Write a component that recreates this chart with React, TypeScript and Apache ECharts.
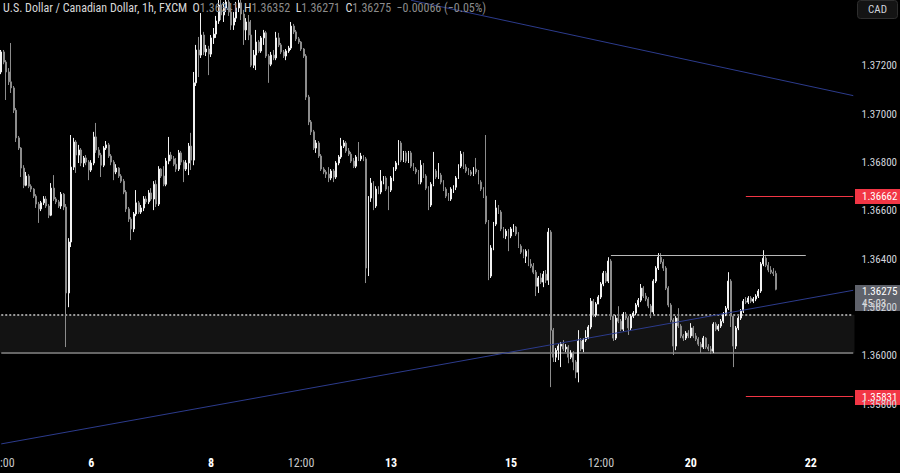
import React, { useEffect, useRef } from 'react';
import * as echarts from 'echarts';

const open = [1.37175,1.37258,1.37216,1.37175,1.37134,1.37109,1.37017,1.36902,1.36860,1.36777,1.36706,1.36744,1.36702,1.36690,1.36661,1.36628,1.36608,1.36633,1.36649,1.36620,1.36582,1.36694,1.36649,1.36637,1.36620,1.36669,1.36616,1.36260,1.36471,1.36781,1.36885,1.36831,1.36852,1.36798,1.36819,1.36802,1.36769,1.36798,1.36906,1.36852,1.36831,1.36789,1.36860,1.36873,1.36827,1.36802,1.36761,1.36777,1.36744,1.36723,1.36678,1.36608,1.36566,1.36525,1.36587,1.36633,1.36595,1.36612,1.36649,1.36637,1.36674,1.36649,1.36710,1.36628,1.36773,1.36744,1.36710,1.36806,1.36831,1.36815,1.36793,1.36773,1.36840,1.36802,1.36773,1.36798,1.36868,1.36810,1.37130,1.37266,1.37245,1.37328,1.37258,1.37270,1.37249,1.37316,1.37332,1.37386,1.37452,1.37411,1.37440,1.37465,1.37423,1.37369,1.37398,1.37440,1.37461,1.37415,1.37349,1.37382,1.37328,1.37203,1.37245,1.37299,1.37262,1.37316,1.37337,1.37241,1.37207,1.37245,1.37233,1.37316,1.37287,1.37258,1.37241,1.37262,1.37274,1.37365,1.37341,1.37312,1.37299,1.37270,1.37241,1.37071,1.36968,1.36927,1.36860,1.36881,1.36827,1.36773,1.36761,1.36752,1.36736,1.36765,1.36740,1.36798,1.36823,1.36868,1.36881,1.36848,1.36835,1.36806,1.36785,1.36823,1.36815,1.36827,1.36815,1.36363,1.36653,1.36715,1.36620,1.36690,1.36678,1.36723,1.36736,1.36690,1.36686,1.36736,1.36773,1.36798,1.36881,1.36810,1.36840,1.36806,1.36840,1.36785,1.36773,1.36761,1.36719,1.36789,1.36744,1.36694,1.36624,1.36710,1.36765,1.36740,1.36748,1.36719,1.36690,1.36661,1.36649,1.36690,1.36698,1.36736,1.36785,1.36835,1.36781,1.36765,1.36761,1.36752,1.36773,1.36761,1.36719,1.36690,1.36661,1.36554,1.36330,1.36446,1.36545,1.36612,1.36595,1.36525,1.36496,1.36516,1.36496,1.36525,1.36533,1.36504,1.36454,1.36429,1.36412,1.36433,1.36380,1.36371,1.36346,1.36288,1.36322,1.36305,1.36338,1.36313,1.36512,1.36106,1.35994,1.36023,1.36040,1.36048,1.36028,1.36036,1.35994,1.36011,1.35974,1.35932,1.36061,1.36028,1.36065,1.36077,1.36119,1.36226,1.36168,1.36214,1.36243,1.36297,1.36342,1.36309,1.36392,1.36164,1.36073,1.36156,1.36143,1.36110,1.36172,1.36156,1.36115,1.36164,1.36177,1.36210,1.36230,1.36280,1.36247,1.36235,1.36206,1.36181,1.36309,1.36363,1.36408,1.36388,1.36363,1.36280,1.36210,1.36148,1.36040,1.36156,1.36123,1.36082,1.36073,1.36094,1.36082,1.36115,1.36082,1.36069,1.36048,1.36036,1.36073,1.36036,1.36028,1.36019,1.36131,1.36110,1.36123,1.36143,1.36172,1.36197,1.36309,1.36164,1.36040,1.36115,1.36156,1.36185,1.36226,1.36222,1.36239,1.36226,1.36235,1.36247,1.36268,1.36380,1.36404,1.36375,1.36355,1.36346,1.36341];

const close = [1.37258,1.37216,1.37175,1.37134,1.37109,1.37017,1.36902,1.36860,1.36777,1.36706,1.36744,1.36702,1.36690,1.36661,1.36628,1.36608,1.36633,1.36649,1.36620,1.36582,1.36694,1.36649,1.36637,1.36620,1.36669,1.36616,1.36260,1.36471,1.36781,1.36885,1.36831,1.36852,1.36798,1.36819,1.36802,1.36769,1.36798,1.36906,1.36852,1.36831,1.36789,1.36860,1.36873,1.36827,1.36802,1.36761,1.36777,1.36744,1.36723,1.36678,1.36608,1.36566,1.36525,1.36587,1.36633,1.36595,1.36612,1.36649,1.36637,1.36674,1.36649,1.36710,1.36628,1.36773,1.36744,1.36710,1.36806,1.36831,1.36815,1.36793,1.36773,1.36840,1.36802,1.36773,1.36798,1.36868,1.36810,1.37130,1.37266,1.37245,1.37328,1.37258,1.37270,1.37249,1.37316,1.37332,1.37386,1.37452,1.37411,1.37440,1.37465,1.37423,1.37369,1.37398,1.37440,1.37461,1.37415,1.37349,1.37382,1.37328,1.37203,1.37245,1.37299,1.37262,1.37316,1.37337,1.37241,1.37207,1.37245,1.37233,1.37316,1.37287,1.37258,1.37241,1.37262,1.37274,1.37365,1.37341,1.37312,1.37299,1.37270,1.37241,1.37071,1.36968,1.36927,1.36860,1.36881,1.36827,1.36773,1.36761,1.36752,1.36736,1.36765,1.36740,1.36798,1.36823,1.36868,1.36881,1.36848,1.36835,1.36806,1.36785,1.36823,1.36815,1.36827,1.36815,1.36363,1.36653,1.36715,1.36620,1.36690,1.36678,1.36723,1.36736,1.36690,1.36686,1.36736,1.36773,1.36798,1.36881,1.36810,1.36840,1.36806,1.36840,1.36785,1.36773,1.36761,1.36719,1.36789,1.36744,1.36694,1.36624,1.36710,1.36765,1.36740,1.36748,1.36719,1.36690,1.36661,1.36649,1.36690,1.36698,1.36736,1.36785,1.36835,1.36781,1.36765,1.36761,1.36752,1.36773,1.36761,1.36719,1.36690,1.36661,1.36554,1.36330,1.36446,1.36545,1.36612,1.36595,1.36525,1.36496,1.36516,1.36496,1.36525,1.36533,1.36504,1.36454,1.36429,1.36412,1.36433,1.36380,1.36371,1.36346,1.36288,1.36322,1.36305,1.36338,1.36313,1.36512,1.36106,1.35994,1.36023,1.36040,1.36048,1.36028,1.36036,1.35994,1.36011,1.35974,1.35932,1.36061,1.36028,1.36065,1.36077,1.36119,1.36226,1.36168,1.36214,1.36243,1.36297,1.36342,1.36309,1.36392,1.36164,1.36073,1.36156,1.36143,1.36110,1.36172,1.36156,1.36115,1.36164,1.36177,1.36210,1.36230,1.36280,1.36247,1.36235,1.36206,1.36181,1.36309,1.36363,1.36408,1.36388,1.36363,1.36280,1.36210,1.36148,1.36040,1.36156,1.36123,1.36082,1.36073,1.36094,1.36082,1.36115,1.36082,1.36069,1.36048,1.36036,1.36073,1.36036,1.36028,1.36019,1.36131,1.36110,1.36123,1.36143,1.36172,1.36197,1.36309,1.36164,1.36040,1.36115,1.36156,1.36185,1.36226,1.36222,1.36239,1.36226,1.36235,1.36247,1.36268,1.36380,1.36404,1.36375,1.36355,1.36346,1.36341,1.36275];

const high = [1.37266,1.37266,1.37224,1.37191,1.37295,1.37117,1.37026,1.36910,1.36864,1.36789,1.36761,1.36752,1.36710,1.36694,1.36669,1.36637,1.36641,1.36661,1.36661,1.36628,1.36715,1.36748,1.36657,1.36645,1.36678,1.36674,1.36628,1.36487,1.36914,1.36902,1.36893,1.36873,1.36860,1.36827,1.36831,1.36810,1.36810,1.36927,1.36964,1.36864,1.36840,1.36868,1.36889,1.36881,1.36835,1.36810,1.36793,1.36781,1.36752,1.36732,1.36686,1.36616,1.36574,1.36595,1.36686,1.36641,1.36624,1.36661,1.36661,1.36686,1.36694,1.36723,1.36727,1.36785,1.36777,1.36785,1.36819,1.36906,1.36844,1.36827,1.36819,1.36852,1.36848,1.36810,1.36810,1.36881,1.36923,1.37175,1.37287,1.37320,1.37419,1.37341,1.37287,1.37283,1.37328,1.37357,1.37407,1.37494,1.37485,1.37465,1.37506,1.37490,1.37440,1.37423,1.37465,1.37498,1.37481,1.37432,1.37398,1.37411,1.37390,1.37266,1.37349,1.37307,1.37324,1.37349,1.37345,1.37249,1.37258,1.37266,1.37341,1.37337,1.37295,1.37266,1.37270,1.37283,1.37382,1.37374,1.37349,1.37320,1.37303,1.37274,1.37249,1.37080,1.36976,1.36935,1.36893,1.36889,1.36835,1.36781,1.36769,1.36781,1.36773,1.36773,1.36806,1.36831,1.36902,1.36893,1.36889,1.36860,1.36844,1.36819,1.36831,1.36885,1.36840,1.36831,1.36823,1.36661,1.36736,1.36723,1.36702,1.36702,1.36769,1.36744,1.36744,1.36702,1.36744,1.36781,1.36806,1.36893,1.36889,1.36848,1.36848,1.36848,1.36848,1.36798,1.36781,1.36769,1.36810,1.36798,1.36752,1.36702,1.36719,1.36844,1.36773,1.36798,1.36757,1.36727,1.36698,1.36674,1.36698,1.36706,1.36744,1.36793,1.36848,1.36844,1.36793,1.36777,1.36769,1.36781,1.36819,1.36769,1.36727,1.36698,1.36914,1.36562,1.36458,1.36554,1.36645,1.36624,1.36603,1.36533,1.36525,1.36525,1.36533,1.36545,1.36537,1.36512,1.36462,1.36441,1.36441,1.36441,1.36400,1.36384,1.36355,1.36330,1.36342,1.36351,1.36355,1.36529,1.36520,1.36115,1.36032,1.36048,1.36057,1.36065,1.36048,1.36044,1.36023,1.36019,1.35982,1.36106,1.36073,1.36073,1.36106,1.36127,1.36239,1.36235,1.36222,1.36251,1.36305,1.36351,1.36351,1.36408,1.36400,1.36172,1.36168,1.36205,1.36152,1.36181,1.36181,1.36164,1.36172,1.36185,1.36218,1.36239,1.36297,1.36288,1.36260,1.36243,1.36214,1.36317,1.36371,1.36425,1.36425,1.36400,1.36371,1.36288,1.36218,1.36156,1.36164,1.36197,1.36131,1.36090,1.36102,1.36106,1.36135,1.36123,1.36094,1.36077,1.36057,1.36082,1.36077,1.36048,1.36040,1.36139,1.36139,1.36131,1.36152,1.36181,1.36206,1.36346,1.36317,1.36172,1.36123,1.36164,1.36193,1.36235,1.36243,1.36247,1.36247,1.36243,1.36255,1.36276,1.36388,1.36437,1.36412,1.36388,1.36371,1.36363,1.36352];

const low = [1.37166,1.37207,1.37059,1.37121,1.37088,1.37005,1.36885,1.36852,1.36740,1.36694,1.36702,1.36694,1.36678,1.36653,1.36612,1.36550,1.36599,1.36624,1.36612,1.36570,1.36578,1.36641,1.36628,1.36612,1.36608,1.36603,1.36036,1.36201,1.36450,1.36769,1.36757,1.36798,1.36785,1.36781,1.36789,1.36727,1.36761,1.36789,1.36840,1.36819,1.36740,1.36781,1.36852,1.36819,1.36789,1.36727,1.36752,1.36736,1.36715,1.36669,1.36595,1.36554,1.36479,1.36512,1.36578,1.36587,1.36587,1.36599,1.36628,1.36628,1.36641,1.36603,1.36616,1.36620,1.36736,1.36702,1.36702,1.36793,1.36806,1.36785,1.36761,1.36765,1.36789,1.36719,1.36765,1.36748,1.36769,1.36789,1.37117,1.37154,1.37233,1.37245,1.37241,1.37162,1.37237,1.37291,1.37316,1.37374,1.37390,1.37382,1.37423,1.37407,1.37349,1.37349,1.37382,1.37423,1.37390,1.37287,1.37307,1.37307,1.37195,1.37191,1.37183,1.37254,1.37254,1.37287,1.37233,1.37130,1.37199,1.37224,1.37224,1.37278,1.37249,1.37233,1.37224,1.37254,1.37266,1.37332,1.37303,1.37291,1.37262,1.37233,1.37059,1.36955,1.36914,1.36852,1.36840,1.36819,1.36765,1.36752,1.36736,1.36719,1.36727,1.36719,1.36732,1.36789,1.36815,1.36860,1.36840,1.36827,1.36798,1.36777,1.36777,1.36806,1.36806,1.36806,1.36301,1.36330,1.36637,1.36603,1.36612,1.36669,1.36669,1.36710,1.36682,1.36603,1.36678,1.36723,1.36765,1.36789,1.36802,1.36802,1.36798,1.36798,1.36777,1.36765,1.36752,1.36710,1.36710,1.36736,1.36686,1.36603,1.36616,1.36702,1.36732,1.36732,1.36710,1.36682,1.36653,1.36641,1.36641,1.36674,1.36686,1.36732,1.36777,1.36773,1.36757,1.36748,1.36744,1.36744,1.36752,1.36710,1.36682,1.36653,1.36545,1.36313,1.36322,1.36437,1.36537,1.36587,1.36516,1.36487,1.36483,1.36433,1.36487,1.36512,1.36496,1.36446,1.36421,1.36404,1.36384,1.36371,1.36363,1.36338,1.36247,1.36260,1.36297,1.36284,1.36301,1.36293,1.35870,1.35974,1.35974,1.35982,1.35953,1.36019,1.36015,1.35969,1.35986,1.35940,1.35907,1.35890,1.36019,1.36015,1.36057,1.36069,1.36110,1.36160,1.36160,1.36218,1.36235,1.36288,1.36301,1.36301,1.36148,1.36061,1.36065,1.36135,1.36102,1.36102,1.36148,1.36086,1.36106,1.36156,1.36168,1.36201,1.36222,1.36239,1.36226,1.36197,1.36156,1.36172,1.36301,1.36355,1.36380,1.36351,1.36272,1.36201,1.36139,1.36003,1.36023,1.36115,1.36073,1.36061,1.36065,1.36073,1.36073,1.36073,1.36061,1.36040,1.36011,1.36028,1.36028,1.36019,1.36007,1.36011,1.36102,1.36102,1.36115,1.36135,1.36164,1.36189,1.36119,1.35953,1.36028,1.36106,1.36148,1.36177,1.36214,1.36214,1.36218,1.36218,1.36226,1.36239,1.36260,1.36371,1.36367,1.36346,1.36338,1.36330,1.36271];

const slotCount = 342;
const timeLabelIndex = [36, 84, 120, 156, 204, 240, 276, 324];
const timeLabelText = ['6', '8', '12:00', '13', '15', '12:00', '20', '22'];
const priceTicks = [1.358, 1.36, 1.362, 1.364, 1.366, 1.368, 1.37, 1.372];
const yMin = 1.35618;
const yMax = 1.37473;
const zoneTop = 1.3617;
const zoneBottom = 1.36012;
const resistanceLevel = 1.36416;
const resistanceFrom = 244;
const resistanceTo = 322;
const upperLevel = 1.36662;
const lowerLevel = 1.35831;
const levelsFrom = 298;
const upperTrend = [[164, 1.37472], [341, 1.37077]];
const lowerTrend = [[0, 1.35635], [341, 1.36271]];
const countdown = '45:03';
const title = 'U.S. Dollar / Canadian Dollar, 1h, FXCM';
const currency = 'CAD';

const FONT = "'Liberation Sans Narrow', 'Roboto Condensed', 'DejaVu Sans Condensed', sans-serif";

function segSeries(a: number[], b: number[], color: string, width: number, type: any, z: number) {
  return {
    type: 'line',
    data: [],
    silent: true,
    markLine: {
      silent: true,
      z,
      symbol: ['none', 'none'],
      label: { show: false },
      lineStyle: { color, width, type },
      data: [[{ coord: [String(a[0]), a[1]] }, { coord: [String(b[0]), b[1]] }]],
    },
  };
}

export default function App() {
  const ref = useRef<HTMLDivElement>(null);
  useEffect(() => {
    if (!ref.current) return;
    const chart = echarts.init(ref.current, null, { renderer: 'svg' });
    const cats = Array.from({ length: slotCount }, (_, i) => String(i));
    const candles = close.map((c, i) => [open[i], c, low[i], high[i]]);
    const last = close.length - 1;
    const chg = close[last] - close[last - 1];
    const pct = (chg / close[last - 1]) * 100;
    const fmtSigned = (v: number, d: number) => (v < 0 ? '\u2212' : '+') + Math.abs(v).toFixed(d);

    chart.setOption({
      animation: false,
      backgroundColor: '#000000',
      grid: { left: 0, right: 45, top: 0, bottom: 25, containLabel: false },
      xAxis: {
        type: 'category',
        data: cats,
        boundaryGap: true,
        axisLine: { show: false },
        axisTick: { show: false },
        splitLine: { show: false },
        axisLabel: {
          margin: 9,
          interval: (index: number) => timeLabelIndex.indexOf(index) >= 0,
          formatter: (_v: string, index: number) => {
            const k = timeLabelIndex.indexOf(index);
            if (k < 0) return '';
            const t = timeLabelText[k];
            return t.indexOf(':') >= 0 ? '{t|' + t + '}' : '{d|' + t + '}';
          },
          rich: {
            t: { color: '#c8c8c8', fontSize: 12, fontFamily: FONT },
            d: { color: '#ffffff', fontSize: 12, fontWeight: 'bold', fontFamily: FONT },
          },
        },
      },
      yAxis: {
        type: 'value',
        position: 'right',
        min: yMin,
        max: yMax,
        axisLine: { show: false },
        axisTick: { show: false },
        splitLine: { show: false },
        axisLabel: {
          customValues: priceTicks,
          margin: 7,
          color: '#d1d4dc',
          fontSize: 11,
          fontFamily: FONT,
          formatter: (v: number) => v.toFixed(5),
        },
      },
      series: [
        {
          type: 'line',
          data: [],
          silent: true,
          markArea: {
            silent: true,
            z: 0,
            itemStyle: { color: '#131313' },
            data: [[{ yAxis: zoneTop }, { yAxis: zoneBottom }]],
          },
        },
        segSeries([0, zoneTop], [slotCount - 1, zoneTop], '#9a9a9a', 2, 'dotted', 1),
        segSeries([0, zoneBottom], [slotCount - 1, zoneBottom], '#666666', 2, 'solid', 1),
        {
          type: 'candlestick',
          z: 3,
          data: candles,
          barWidth: 1.4,
          itemStyle: {
            color: '#f2f2f2',
            color0: '#8c8c8c',
            borderColor: '#f2f2f2',
            borderColor0: '#8c8c8c',
            borderWidth: 1,
          },
        },
        segSeries(upperTrend[0], upperTrend[1], '#2c3b8c', 1, 'solid', 5),
        segSeries(lowerTrend[0], lowerTrend[1], '#2c3b8c', 1, 'solid', 5),
        segSeries([resistanceFrom, resistanceLevel], [resistanceTo, resistanceLevel], '#b8b8b8', 1, 'solid', 5),
        segSeries([levelsFrom, upperLevel], [slotCount - 1, upperLevel], '#f23645', 1, 'solid', 5),
        segSeries([levelsFrom, lowerLevel], [slotCount - 1, lowerLevel], '#f23645', 1, 'solid', 5),
      ],
    });

    const yPx = (v: number) => chart.convertToPixel({ yAxisIndex: 0 }, v) as number;
    const axisX = 855;
    const tag = (v: number, fill: string) => ({
      type: 'group',
      z: 100,
      children: [
        { type: 'rect', shape: { x: axisX, y: Math.round(yPx(v)) - 7, width: 45, height: 15 }, style: { fill } },
        {
          type: 'text',
          x: 862,
          y: Math.round(yPx(v)) + 0.5,
          style: { text: v.toFixed(5), fill: '#ffffff', fontSize: 11, fontFamily: FONT, verticalAlign: 'middle' },
        },
      ],
    });
    const lastY = Math.round(yPx(close[last]));

    chart.setOption({
      graphic: [
        {
          type: 'text',
          left: 3,
          top: 2,
          z: 100,
          style: {
            text:
              '{n|' + title + '}  {k|O}{v|' + open[last].toFixed(5) + '}  {k|H}{v|' + high[last].toFixed(5) +
              '}  {k|L}{v|' + low[last].toFixed(5) + '}  {k|C}{v|' + close[last].toFixed(5) + '}  {v|' +
              fmtSigned(chg, 5) + ' (' + fmtSigned(pct, 2) + '%)}',
            fontSize: 12,
            fontFamily: FONT,
            rich: {
              n: { fill: '#d8d8d8', fontSize: 12, fontFamily: FONT },
              k: { fill: '#d8d8d8', fontSize: 12, fontFamily: FONT },
              v: { fill: '#8c8c8c', fontSize: 12, fontFamily: FONT },
            },
          },
        },
        {
          type: 'group',
          z: 100,
          children: [
            { type: 'rect', shape: { x: 857.5, y: 0.5, width: 40, height: 18, r: 3 }, style: { fill: '#141414', stroke: '#2e2e2e', lineWidth: 1 } },
            { type: 'text', x: 877.5, y: 9.5, style: { text: currency, fill: '#d1d4dc', fontSize: 11, fontFamily: FONT, align: 'center', verticalAlign: 'middle' } },
          ],
        },
        tag(upperLevel, '#f23645'),
        tag(lowerLevel, '#f23645'),
        {
          type: 'group',
          z: 100,
          children: [
            { type: 'rect', shape: { x: axisX, y: lastY - 4, width: 45, height: 26 }, style: { fill: '#5f626b' } },
            { type: 'text', x: 862, y: lastY + 2.5, style: { text: close[last].toFixed(5), fill: '#ffffff', fontSize: 11, fontFamily: FONT, verticalAlign: 'middle' } },
            { type: 'text', x: 862, y: lastY + 14, style: { text: countdown, fill: '#e0e0e0', fontSize: 11, fontFamily: FONT, verticalAlign: 'middle' } },
          ],
        },
        {
          type: 'text',
          x: 0,
          y: 463,
          z: 100,
          style: { text: ':00', fill: '#c8c8c8', fontSize: 12, fontFamily: FONT, verticalAlign: 'middle' },
        },
      ],
    });

    return () => chart.dispose();
  }, []);

  return (
    <div
      ref={ref}
      style={{ position: 'fixed', left: 0, top: 0, width: 900, height: 473, background: '#000' }}
    />
  );
}
